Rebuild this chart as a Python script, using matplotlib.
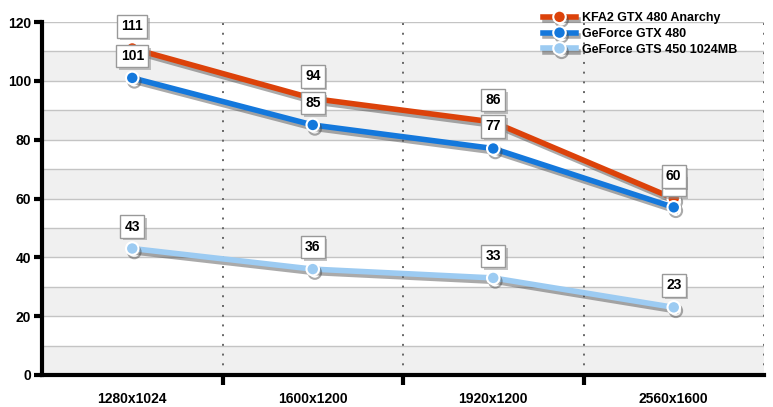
import numpy as np
import matplotlib.pyplot as plt
import matplotlib.patheffects as pe

plt.rcParams['font.family'] = ['Liberation Sans', 'DejaVu Sans']

resolutions = ['1280x1024', '1600x1200', '1920x1200', '2560x1600']
kfa2 = [111, 94, 86, 60]
gtx480 = [101, 85, 77, 57]
gts450 = [43, 36, 33, 23]

series = [('KFA2 GTX 480 Anarchy', kfa2, '#dc420a'),
          ('GeForce GTX 480', gtx480, '#1478dc'),
          ('GeForce GTS 450 1024MB', gts450, '#9ccbf2')]

fig = plt.figure(figsize=(7.73, 4.07), dpi=100)
ax = fig.add_axes([42/773, 1-375/407, (764-42)/773, (375-22)/407])

# alternating bands + grid
for y0 in range(0, 120, 20):
    ax.axhspan(y0, y0 + 10, color='#f0f0f0', zorder=0, lw=0)
for y in range(10, 121, 10):
    ax.axhline(y, color='#c4c4c4', lw=1, zorder=1)
for xb in [0.5, 1.5, 2.5, 3.5]:
    ax.axvline(xb, color='#666666', lw=1.4, ls=(0, (1, 4)), zorder=1)

x = np.arange(len(resolutions))
shadow = [pe.SimpleLineShadow(offset=(1.5, -2.5), shadow_color='#444444', alpha=0.45), pe.Normal()]
for name, vals, col in series:
    ax.plot(x, vals, color=col, lw=4, marker='o', ms=9, mfc=col, mec='white',
            mew=1.5, label=name, zorder=3, path_effects=shadow)

# first series' labels end up on top
for k, (name, vals, col) in enumerate(series):
    for xi, v in zip(x, vals):
        t = ax.annotate(str(v), (xi, v), xytext=(0, 22), textcoords='offset pixels',
                        ha='center', va='center', fontsize=10, fontweight='bold',
                        zorder=10 - k,
                        bbox=dict(boxstyle='square,pad=0.3', fc='white', ec='#999999', lw=1))
        t.get_bbox_patch().set_path_effects([
            pe.SimplePatchShadow(offset=(2, -2), shadow_rgbFace='#888888', alpha=0.5),
            pe.Normal()])

ax.set_xlim(-0.5, 3.5)
ax.set_ylim(0, 120)
ax.set_yticks(range(0, 121, 20))
ax.set_xticks(x)
ax.set_xticklabels(resolutions)
ax.set_xticks([0.5, 1.5, 2.5], minor=True)
ax.tick_params(axis='x', which='major', length=0, pad=12)
ax.tick_params(axis='x', which='minor', length=7, width=3, color='black')
ax.tick_params(axis='y', length=6, width=3, pad=2)
for lab in ax.get_xticklabels() + ax.get_yticklabels():
    lab.set_fontweight('bold')
    lab.set_fontsize(10)

ax.spines['top'].set_visible(False)
ax.spines['right'].set_visible(False)
ax.spines['left'].set_linewidth(3)
ax.spines['bottom'].set_linewidth(3)
ax.spines['bottom'].set_zorder(6)

leg = fig.legend(loc='upper left', bbox_to_anchor=(532/773, 1 - 1/407), frameon=False,
                 handlelength=2.6, labelspacing=0.3, handletextpad=0.5,
                 prop={'weight': 'bold', 'size': 9})

fig.savefig('out.png', dpi=100)
